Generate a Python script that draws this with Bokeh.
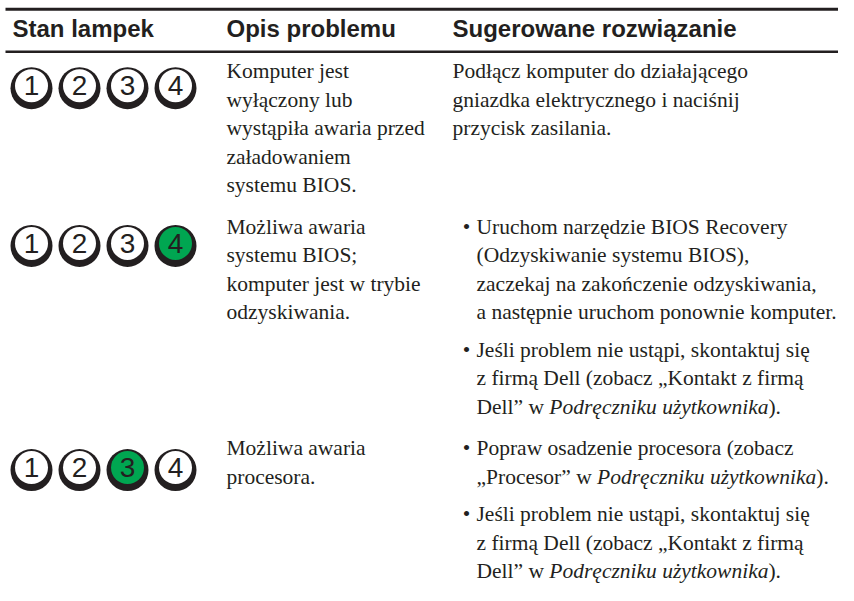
import glob, struct
from bokeh.plotting import figure
from bokeh.models import Range1d, ColumnDataSource
from bokeh.core.properties import value
from bokeh.embed import file_html
from bokeh.resources import INLINE

# ---------------- data ----------------
headers = ["Stan lampek", "Opis problemu", "Sugerowane rozwiązanie"]
led_numbers = ["1", "2", "3", "4"]
lit_led = [None, "4", "3"]          # which LED is lit (green) in each row

desc_row1 = ["Komputer jest", "wyłączony lub", "wystąpiła awaria przed", "załadowaniem", "systemu BIOS."]
desc_row2 = ["Możliwa awaria", "systemu BIOS;", "komputer jest w trybie", "odzyskiwania."]
desc_row3 = ["Możliwa awaria", "procesora."]

sol_row1 = [["Podłącz komputer do działającego", "gniazdka elektrycznego i naciśnij", "przycisk zasilania."]]
sol_row2 = [["Uruchom narzędzie BIOS Recovery", "(Odzyskiwanie systemu BIOS),",
             "zaczekaj na zakończenie odzyskiwania,", "a następnie uruchom ponownie komputer."],
            ["Jeśli problem nie ustąpi, skontaktuj się", "z firmą Dell (zobacz „Kontakt z firmą",
             "Dell” w *Podręczniku użytkownika*)."]]
sol_row3 = [["Popraw osadzenie procesora (zobacz", "„Procesor” w *Podręczniku użytkownika*)."],
            ["Jeśli problem nie ustąpi, skontaktuj się", "z firmą Dell (zobacz „Kontakt z firmą",
             "Dell” w *Podręczniku użytkownika*)."]]
sol_bullets = [False, True, True]

descriptions = [desc_row1, desc_row2, desc_row3]
solutions = [sol_row1, sol_row2, sol_row3]

# ---------------- layout / style ----------------
INK = "#231f20"
GREEN = "#00a651"
SERIF = "Liberation Serif"
SANS = "Liberation Sans"
SERIF_PX = 21.5
HEAD_PX = 24
DIGIT_PX = 28
BASE_K = 0.37            # empirical: drawn baseline sits this many ems below y
col_x = [12, 226, 452]
bullet_x = 466
bullet_text_x = 476
rule_x = [5, 838]
rule_y = [8.7, 51.3]
head_base = 37.0
first_base = 78.7
line_h = 28.5
para_h = 37.6
row_gap = 41.5
led_dy = [9.0, 11.2, 13.8]
led_x0, led_dx = 31, 48


def load_metrics(pattern):
    files = glob.glob("/usr/share/fonts/**/" + pattern, recursive=True) + \
        glob.glob("/usr/local/share/fonts/**/" + pattern, recursive=True)
    if not files:
        return None
    data = open(files[0], "rb").read()
    nt = struct.unpack(">H", data[4:6])[0]
    tables = {}
    for i in range(nt):
        tag, cs, off, ln = struct.unpack(">4sIII", data[12 + 16 * i:28 + 16 * i])
        tables[tag.decode("latin1")] = off
    upem = struct.unpack(">H", data[tables["head"] + 18:tables["head"] + 20])[0]
    nhm = struct.unpack(">H", data[tables["hhea"] + 34:tables["hhea"] + 36])[0]
    ho = tables["hmtx"]
    adv = [struct.unpack(">H", data[ho + 4 * i:ho + 4 * i + 2])[0] for i in range(nhm)]
    co = tables["cmap"]
    n = struct.unpack(">H", data[co + 2:co + 4])[0]
    cmap = {}
    for i in range(n):
        pid, eid, so = struct.unpack(">HHI", data[co + 4 + 8 * i:co + 12 + 8 * i])
        sub = co + so
        fmt = struct.unpack(">H", data[sub:sub + 2])[0]
        if fmt == 4 and pid in (0, 3):
            segx2 = struct.unpack(">H", data[sub + 6:sub + 8])[0]
            seg = segx2 // 2
            ends = struct.unpack(">%dH" % seg, data[sub + 14:sub + 14 + segx2])
            starts = struct.unpack(">%dH" % seg, data[sub + 16 + segx2:sub + 16 + 2 * segx2])
            deltas = struct.unpack(">%dh" % seg, data[sub + 16 + 2 * segx2:sub + 16 + 3 * segx2])
            rp = sub + 16 + 3 * segx2
            roffs = struct.unpack(">%dH" % seg, data[rp:rp + segx2])
            for s in range(seg):
                for c in range(starts[s], ends[s] + 1):
                    if c == 0xFFFF:
                        continue
                    if roffs[s] == 0:
                        g = (c + deltas[s]) & 0xFFFF
                    else:
                        a = rp + 2 * s + roffs[s] + 2 * (c - starts[s])
                        g = struct.unpack(">H", data[a:a + 2])[0]
                        if g:
                            g = (g + deltas[s]) & 0xFFFF
                    cmap[c] = g
            break
    return upem, adv, cmap


M_REG = load_metrics("LiberationSerif-Regular.ttf")
M_ITA = load_metrics("LiberationSerif-Italic.ttf")


def width(s, m, px):
    if m is None:
        return len(s) * 0.45 * px
    upem, adv, cmap = m
    tot = 0
    for ch in s:
        g = cmap.get(ord(ch), 0)
        tot += adv[min(g, len(adv) - 1)]
    return tot / upem * px


reg = dict(x=[], y=[], text=[])
ita = dict(x=[], y=[], text=[])
SERIF_OFF = BASE_K * SERIF_PX


def put_line(x, y, line):
    parts = line.split("*")
    for k, part in enumerate(parts):
        if not part:
            continue
        italic = (k % 2 == 1)
        tgt = ita if italic else reg
        lead = len(part) - len(part.lstrip(" "))
        m = M_ITA if italic else M_REG
        tgt["x"].append(x + width(part[:lead], m, SERIF_PX))
        tgt["y"].append(y - SERIF_OFF)
        tgt["text"].append(part.strip(" "))
        x += width(part, m, SERIF_PX)


bul = dict(x=[], y=[], text=[])
row_base = []
y_row = first_base
for r in range(3):
    row_base.append(y_row)
    for i, line in enumerate(descriptions[r]):
        put_line(col_x[1], y_row + i * line_h, line)
    last_desc = y_row + (len(descriptions[r]) - 1) * line_h
    y = y_row
    last_sol = y
    for para in solutions[r]:
        if sol_bullets[r]:
            bul["x"].append(bullet_x)
            bul["y"].append(y - SERIF_OFF)
            bul["text"].append("•")
            x0 = bullet_text_x
        else:
            x0 = col_x[2]
        for i, line in enumerate(para):
            put_line(x0, y + i * line_h, line)
        last_sol = y + (len(para) - 1) * line_h
        y = last_sol + para_h
    y_row = max(last_desc, last_sol) + row_gap

# LEDs
led = dict(x=[], y=[], fill=[], text=[])
for r in range(3):
    for j, num in enumerate(led_numbers):
        led["x"].append(led_x0 + j * led_dx)
        led["y"].append(row_base[r] + led_dy[r])
        led["fill"].append(GREEN if lit_led[r] == num else "white")
        led["text"].append(num)
led["iy"] = [v - 2.5 for v in led["y"]]

# ---------------- figure ----------------
W, H = 838, 585
p = figure(width=W, height=H, output_backend="svg", toolbar_location=None,
           x_range=Range1d(0, W), y_range=Range1d(H, 0),
           x_axis_type=None, y_axis_type=None, min_border=0,
           background_fill_color="white", border_fill_color="white")
p.outline_line_color = None
p.grid.visible = False

# rules
p.segment(x0=[rule_x[0]] * 2, y0=rule_y, x1=[rule_x[1]] * 2, y1=rule_y,
          line_color=INK, line_width=[3, 2.5])

# headers
p.text(x=col_x, y=[head_base - BASE_K * HEAD_PX] * 3, text=headers, text_font=value(SANS),
       text_font_style="bold",
       text_font_size=f"{HEAD_PX}px", text_color=INK, text_baseline="alphabetic", text_align="left")

# body text
p.text(x="x", y="y", text="text", source=ColumnDataSource(reg), text_font=value(SERIF),
       text_font_size=f"{SERIF_PX}px", text_color=INK, text_baseline="alphabetic", text_align="left")
p.text(x="x", y="y", text="text", source=ColumnDataSource(ita), text_font=value(SERIF),
       text_font_style="italic",
       text_font_size=f"{SERIF_PX}px", text_color=INK, text_baseline="alphabetic", text_align="left")
p.text(x="x", y="y", text="text", source=ColumnDataSource(bul), text_font=value(SERIF),
       text_font_size=f"{SERIF_PX}px", text_color=INK, text_baseline="alphabetic", text_align="center")

# LED icons
src = ColumnDataSource(led)
p.circle(x="x", y="y", radius=21, source=src, fill_color=INK, line_color=None)
p.circle(x="x", y="iy", radius=16.5, source=src, fill_color="fill", line_color=None)
p.text(x="x", y="iy", text="text", source=src, text_font=value(SANS), text_font_size=f"{DIGIT_PX}px",
       text_color=INK, text_baseline="middle", text_align="center")

open("out.html", "w").write(file_html(p, INLINE))
